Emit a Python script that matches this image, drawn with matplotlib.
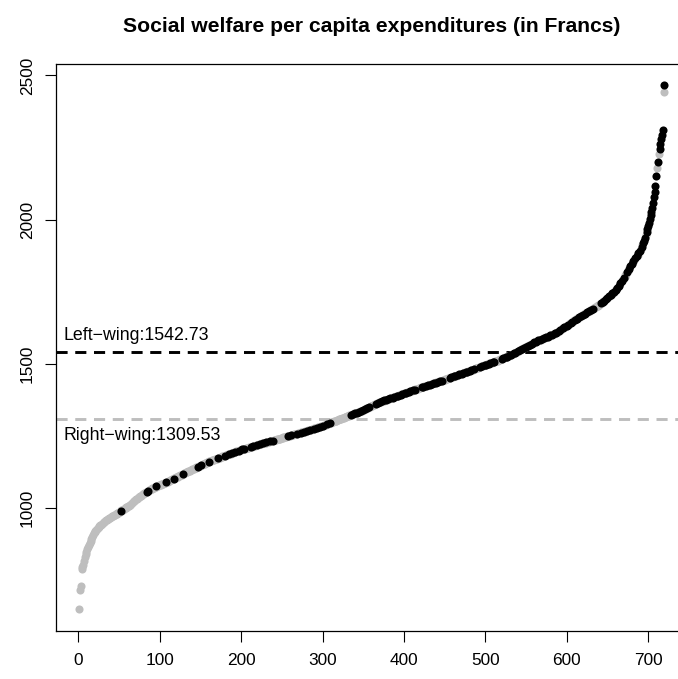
import numpy as np
import matplotlib
matplotlib.use("Agg")
import matplotlib.pyplot as plt

# per-capita social welfare spending, sorted ascending (one value per municipality)
spending = [
    650, 716, 731, 789, 797, 805, 818, 830, 841, 850,
    858, 866, 874, 881, 888, 895, 901, 907, 913, 919,
    922, 926, 929, 932, 935, 938, 941, 944, 947, 950,
    952, 954, 956, 958, 960, 962, 964, 966, 968, 970,
    972, 973, 975, 977, 978, 980, 982, 983, 985, 987,
    989, 991, 993, 994, 996, 998, 1000, 1001, 1003, 1005,
    1007, 1009, 1011, 1013, 1015, 1018, 1021, 1024, 1026, 1029,
    1031, 1033, 1036, 1038, 1040, 1042, 1044, 1046, 1049, 1051,
    1053, 1054, 1056, 1058, 1060, 1061, 1063, 1065, 1066, 1068,
    1069, 1071, 1072, 1073, 1075, 1076, 1077, 1078, 1080, 1081,
    1082, 1083, 1085, 1086, 1087, 1088, 1089, 1091, 1092, 1093,
    1095, 1096, 1097, 1099, 1100, 1101, 1103, 1104, 1106, 1107,
    1108, 1110, 1111, 1113, 1114, 1116, 1117, 1119, 1120, 1122,
    1123, 1125, 1126, 1127, 1129, 1130, 1131, 1132, 1134, 1135,
    1136, 1138, 1139, 1140, 1142, 1143, 1144, 1146, 1147, 1148,
    1150, 1151, 1152, 1154, 1155, 1157, 1158, 1159, 1161, 1162,
    1163, 1164, 1165, 1166, 1167, 1168, 1169, 1170, 1171, 1172,
    1173, 1174, 1175, 1176, 1178, 1179, 1180, 1181, 1182, 1183,
    1184, 1185, 1186, 1187, 1188, 1189, 1190, 1191, 1192, 1193,
    1194, 1195, 1196, 1197, 1198, 1199, 1200, 1201, 1202, 1203,
    1204, 1205, 1205, 1206, 1207, 1208, 1209, 1209, 1210, 1211,
    1212, 1213, 1214, 1215, 1216, 1216, 1217, 1218, 1219, 1220,
    1221, 1222, 1222, 1223, 1224, 1225, 1226, 1226, 1227, 1228,
    1229, 1230, 1230, 1231, 1232, 1233, 1234, 1234, 1235, 1236,
    1237, 1238, 1238, 1239, 1240, 1241, 1242, 1242, 1243, 1244,
    1245, 1246, 1246, 1247, 1248, 1249, 1250, 1250, 1251, 1252,
    1253, 1254, 1254, 1255, 1256, 1257, 1258, 1258, 1259, 1260,
    1261, 1262, 1262, 1263, 1264, 1265, 1266, 1266, 1267, 1268,
    1269, 1270, 1271, 1272, 1272, 1273, 1274, 1275, 1276, 1277,
    1278, 1279, 1280, 1281, 1281, 1282, 1283, 1284, 1285, 1286,
    1287, 1288, 1289, 1290, 1291, 1292, 1293, 1295, 1296, 1297,
    1298, 1299, 1300, 1301, 1302, 1303, 1304, 1306, 1307, 1308,
    1309, 1310, 1311, 1312, 1313, 1314, 1315, 1317, 1318, 1319,
    1320, 1321, 1322, 1323, 1324, 1325, 1326, 1328, 1329, 1330,
    1331, 1332, 1333, 1334, 1335, 1336, 1337, 1338, 1339, 1340,
    1341, 1343, 1344, 1346, 1347, 1348, 1350, 1351, 1353, 1354,
    1355, 1357, 1358, 1360, 1361, 1362, 1364, 1365, 1367, 1368,
    1369, 1370, 1371, 1372, 1373, 1374, 1375, 1376, 1377, 1378,
    1379, 1380, 1381, 1382, 1383, 1384, 1385, 1386, 1387, 1388,
    1389, 1390, 1391, 1392, 1393, 1394, 1395, 1396, 1397, 1398,
    1399, 1400, 1401, 1402, 1403, 1404, 1405, 1406, 1407, 1408,
    1409, 1410, 1411, 1412, 1413, 1414, 1415, 1416, 1417, 1418,
    1419, 1420, 1421, 1422, 1423, 1423, 1424, 1425, 1426, 1427,
    1428, 1429, 1430, 1431, 1432, 1433, 1434, 1435, 1436, 1437,
    1438, 1439, 1440, 1441, 1441, 1442, 1443, 1444, 1445, 1446,
    1447, 1448, 1449, 1450, 1451, 1452, 1453, 1454, 1455, 1456,
    1457, 1458, 1459, 1460, 1461, 1462, 1463, 1464, 1465, 1466,
    1467, 1468, 1469, 1470, 1471, 1472, 1473, 1474, 1475, 1476,
    1477, 1478, 1479, 1480, 1481, 1482, 1484, 1485, 1486, 1487,
    1488, 1489, 1490, 1491, 1492, 1493, 1494, 1495, 1496, 1497,
    1498, 1499, 1500, 1501, 1502, 1503, 1504, 1505, 1506, 1507,
    1508, 1509, 1510, 1511, 1512, 1513, 1515, 1516, 1517, 1518,
    1519, 1520, 1521, 1523, 1524, 1525, 1526, 1527, 1529, 1530,
    1531, 1533, 1534, 1536, 1537, 1539, 1540, 1542, 1543, 1545,
    1546, 1548, 1549, 1551, 1552, 1554, 1555, 1557, 1558, 1560,
    1561, 1563, 1564, 1566, 1567, 1569, 1570, 1572, 1573, 1575,
    1576, 1578, 1579, 1580, 1582, 1583, 1584, 1585, 1587, 1588,
    1589, 1590, 1591, 1592, 1593, 1594, 1595, 1596, 1598, 1599,
    1600, 1602, 1603, 1605, 1606, 1608, 1609, 1611, 1612, 1614,
    1616, 1618, 1620, 1622, 1624, 1625, 1627, 1629, 1631, 1633,
    1635, 1637, 1639, 1641, 1643, 1645, 1647, 1649, 1651, 1653,
    1655, 1657, 1658, 1660, 1662, 1664, 1666, 1667, 1669, 1671,
    1673, 1674, 1676, 1678, 1679, 1681, 1683, 1684, 1686, 1688,
    1690, 1691, 1693, 1695, 1697, 1699, 1700, 1702, 1704, 1706,
    1708, 1711, 1713, 1716, 1718, 1720, 1723, 1725, 1728, 1730,
    1732, 1735, 1737, 1740, 1742, 1745, 1747, 1750, 1752, 1755,
    1759, 1763, 1767, 1772, 1776, 1780, 1785, 1789, 1794, 1798,
    1803, 1808, 1813, 1818, 1823, 1828, 1833, 1838, 1843, 1848,
    1852, 1857, 1861, 1866, 1870, 1875, 1879, 1884, 1888, 1893,
    1900, 1906, 1912, 1920, 1928, 1937, 1947, 1958, 1968, 1978,
    1990, 2003, 2016, 2028, 2041, 2059, 2078, 2097, 2117, 2152,
    2178, 2201, 2227, 2245, 2262, 2279, 2295, 2311, 2441, 2466,
]

# ranks (1-based) of the municipalities governed by the left; all others are right-wing
left_wing_idx = [
    52, 84, 85, 96, 108, 117, 128, 147, 151, 160, 172, 180, 185, 189, 193,
    197, 201, 204, 212, 215, 219, 223, 227, 231, 235, 239, 258, 261, 269,
    273, 277, 281, 285, 289, 293, 297, 301, 305, 309,
    335, 337, 340, 342, 345, 347, 350, 352, 355, 357, 366, 368, 371, 373,
    376, 378, 381, 383, 386, 388, 391, 393, 396, 398, 401, 403, 406, 408,
    411, 413, 422, 424, 427, 429, 432, 434, 437, 439, 442, 444, 447, 456,
    458, 461, 463, 466, 468, 471, 473, 476, 478, 481, 483, 486, 494, 496,
    499, 501, 504, 506, 509, 511, 520, 522, 525, 527, 530, 532, 535, 537,
    540, 542, 545, 547, 550, 552, 555, 557, 560, 562, 565, 567, 570, 572,
    575, 577, 580, 582, 585, 587, 590, 592, 595, 597, 600, 602, 605, 607,
    610, 612, 615, 617, 620, 622, 625, 627, 630, 632, 642, 644, 646, 648,
    650, 652, 654, 656, 658, 660, 662, 664, 666, 668, 670, 674, 676, 678,
    680, 682, 684, 686, 688, 690, 692, 694, 695, 696, 698, 699, 700, 701,
    702, 703, 704, 705, 706, 707, 708, 709, 710, 712, 714, 715, 716, 717,
    718, 720,
]

left_mean = 1542.73
right_mean = 1309.53

plt.rcParams['font.family'] = ['Liberation Sans', 'DejaVu Sans']
plt.rcParams['lines.scale_dashes'] = False

y = np.array(spending, dtype=float)
x = np.arange(1, len(y) + 1)
is_left = np.isin(x, left_wing_idx)

fig = plt.figure(figsize=(6.78, 6.79), dpi=100)
ax = fig.add_axes([0.0822, 0.0711, 0.9323, 0.8342])

# right-wing points first so the left-wing ones sit on top
ax.scatter(x[~is_left], y[~is_left], s=34, color='#BEBEBE', linewidths=0, zorder=2)
ax.scatter(x[is_left], y[is_left], s=34, color='black', linewidths=0, zorder=3)

ax.axhline(left_mean, color='black', lw=2.1, linestyle=(0, (8, 5.5)), zorder=1)
ax.axhline(right_mean, color='#BEBEBE', lw=2.1, linestyle=(0, (8, 5.5)), zorder=1)

ax.annotate('Left\u2212wing:%.2f' % left_mean, xy=(-18.5, left_mean),
            xytext=(0, 12), textcoords='offset points',
            ha='left', va='center', fontsize=12.8)
ax.annotate('Right\u2212wing:%.2f' % right_mean, xy=(-18.5, right_mean),
            xytext=(0, -12), textcoords='offset points',
            ha='left', va='center', fontsize=12.8)

ax.set_xlim(-27.76, 748.76)
ax.set_ylim(576.0, 2538.6)
ax.set_xticks(range(0, 701, 100))
ax.set_yticks(range(1000, 2501, 500))
ax.tick_params(direction='out', length=8, width=0.8, labelsize=12.4,
               colors='black')
ax.tick_params(axis='x', pad=8)
ax.tick_params(axis='y', pad=7)
for lab in ax.get_yticklabels():
    lab.set_rotation(90)
    lab.set_va('center')
for sp in ax.spines.values():
    sp.set_linewidth(0.9)
ax.spines['right'].set_visible(False)

fig.text((55.7 + 687.8) / 2 / 678, 1 - 27 / 679,
         'Social welfare per capita expenditures (in Francs)',
         ha='center', va='center', fontsize=15.2, fontweight='bold')

fig.savefig('out.png', dpi=100)
